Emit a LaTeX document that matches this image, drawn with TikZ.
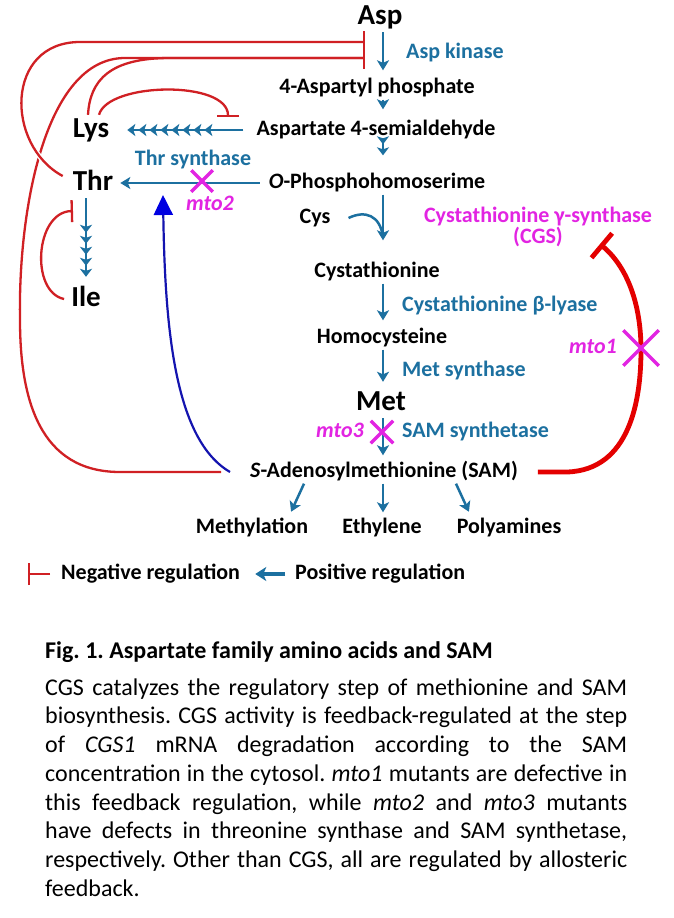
\documentclass[tikz,border=0pt]{standalone}
\usepackage{fontspec}
\setmainfont{Carlito}
\usetikzlibrary{arrows.meta, shapes.misc, positioning, calc}
\definecolor{pblue}{RGB}{28,112,160}
\definecolor{nred}{RGB}{208,32,36}
\definecolor{sred}{RGB}{228,0,0}
\definecolor{mgnt}{RGB}{226,36,226}
\definecolor{nvy}{RGB}{20,20,175}
\definecolor{tri}{RGB}{0,0,225}
\tikzset{hd/.tip={Stealth[length=8pt,width=12pt,inset=2pt,sep=3pt]}}
\begin{document}
\begin{tikzpicture}[x=1pt, y=-1pt,
  big/.style={font=\bfseries\fontsize{29}{34}\selectfont, text height=20pt, text depth=6pt, inner sep=2pt},
  cpd/.style={font=\bfseries\fontsize{22}{26}\selectfont, text height=15pt, text depth=4pt, inner sep=2pt},
  enz/.style={cpd, text=pblue},
  mut/.style={cpd, text=mgnt, font=\bfseries\itshape\fontsize{22}{26}\selectfont},
  posreg/.style={draw=pblue, line width=2.5pt, -{Stealth[length=10pt,width=12pt,inset=2.5pt]}},
  negreg/.style={draw=nred, line width=2.3pt, -{Bar[width=22pt]}},
  xmark/.style={cross out, draw=mgnt, line width=3.5pt, minimum size=#1, inner sep=0pt},
  hop/.style={preaction={draw=white, line width=5pt, -}}]
\fill[white] (0,0) rectangle (674,918);
\useasboundingbox (0,0) rectangle (674,918);
\coordinate (col) at (383,0);
\node[big] (asp) at (380,17) {Asp};
\node[enz, anchor=west] (aspk) at (404,53) {Asp kinase};
\node[cpd] (aph) at (377,88) {4-Aspartyl phosphate};
\node[cpd] (asa) at (376,130) {Aspartate 4-semialdehyde};
\node[cpd] (oph) at (377,183) {\textit{O}-Phosphohomoserime};
\node[big] (lys) at (91,130) {Lys};
\node[big] (thr) at (93,183) {Thr};
\node[big] (ile) at (86,299) {Ile};
\node[enz] (thrsyn) at (193,160) {Thr synthase};
\node[mut] (mtotwo) at (210,205) {mto2};
\node[cpd] (cys) at (315,218) {Cys};
\node[inner sep=1pt, align=center, text=mgnt, font=\bfseries\fontsize{22}{18}\selectfont] (cgs) at (538,227) {Cystathionine γ-synthase\\(CGS)};
\node[cpd] (cth) at (377,272) {Cystathionine};
\node[enz, anchor=west] (cbl) at (400,306) {Cystathionine β-lyase};
\node[cpd] (hcy) at (382,338) {Homocysteine};
\node[enz, anchor=west] (metsyn) at (400,371) {Met synthase};
\node[big] (met) at (381,403) {Met};
\node[mut, anchor=east] (mtothree) at (366,432) {mto3};
\node[enz, anchor=west] (samsyn) at (400,432) {SAM synthetase};
\node[cpd] (sam) at (384,472) {\textit{S}-Adenosylmethionine (SAM)};
\node[cpd] (methyl) at (252,528) {Methylation};
\node[cpd] (ethyl) at (382,528) {Ethylene};
\node[cpd] (polya) at (509,528) {Polyamines};
\node[mut, anchor=east] (mtoone) at (619,348) {mto1};
\node[cpd, anchor=west] (neglbl) at (59,574) {Negative regulation};
\node[cpd, anchor=west] (poslbl) at (293,574) {Positive regulation};
\coordinate (aktop) at (365,42);
\coordinate (akbot) at (365,58);
\coordinate (lysstep) at (228,117);
\coordinate (ilestep) at (73,211);
\coordinate (thrstep) at (163,195);
\coordinate (cgsstep) at (600,244);
\coordinate (cysin) at (383,237);
\coordinate (negbar) at (28,574);
\draw[posreg, shorten >=6pt] (asp.south -| col) -- (aph.north -| col);
\draw[posreg, shorten >=9pt] (aph.south -| col) -- (asa.north -| col);
\draw[posreg, -{hd[]hd[]}, shorten >=13pt] (asa.south -| col) -- (oph.north -| col);
\draw[posreg, shorten >=20pt] (oph.south -| col) -- (cth.north -| col);
\draw[pblue, line width=2.5pt] ([xshift=16pt]cys.east) .. controls (365,210) and (380,215) .. (cysin);
\draw[posreg, shorten >=6pt] (cth.south -| col) -- (hcy.north -| col);
\draw[posreg, shorten >=6pt] (hcy.south -| col) -- (met.north -| col);
\draw[posreg, shorten >=5pt] (met.south -| col) -- (sam.north -| col);
\draw[posreg, shorten >=5pt] ([xshift=-80pt]sam.south) -- ([xshift=37pt]methyl.north);
\draw[posreg, shorten >=4pt] (sam.south -| col) -- (ethyl.north -| col);
\draw[posreg, shorten >=5pt] ([xshift=72pt]sam.south) -- ([xshift=-38pt]polya.north);
\draw[posreg, -{hd[]hd[]hd[]hd[]hd[]hd[]hd[]hd[]}, shorten >=13pt] ([xshift=-11pt]asa.west) -- (lys.east |- asa.west);
\draw[posreg, shorten >=5pt] ([xshift=-7pt]oph.west) -- (thr.east |- oph.west);
\draw[posreg, -{hd[]hd[]hd[]hd[]hd[]}, shorten >=4pt] (thr.south -| ile.north) -- (ile.north);
\draw[negreg] ([xshift=-27pt]sam.west) -- (120,472) .. controls (40,472) and (20,400) .. (20,320) .. controls (18,210) and (45,58) .. (125,58) -- (akbot);
\draw[negreg, hop] ($(thr.west)+(-8,-7)$) .. controls (5,145) and (5,42) .. (80,42) -- (aktop);
\draw[negreg] ([xshift=-3pt]lys.north) .. controls (90,80) and (110,58) .. (170,58) -- (akbot);
\draw[negreg] ([xshift=8pt]lys.north) .. controls (108,82) and (228,80) .. (lysstep);
\draw[negreg] ([xshift=-5pt]ile.west) .. controls (30,292) and (35,212) .. (ilestep);
\draw[nvy, line width=2.2pt, -{Triangle[length=20pt,width=19pt,color=tri]}] ([xshift=-18pt]sam.west) .. controls (175,440) and (165,330) .. (thrstep);
\draw[sred, line width=4.8pt, -{Bar[width=32pt]}] ([xshift=18pt]sam.east) -- (567,472) .. controls (630,470) and (641,400) .. (641,350) .. controls (641,300) and (625,265) .. (cgsstep);
\draw[negreg] ([xshift=-9pt]neglbl.west) -- (negbar);
\draw[posreg, line width=3.5pt, -{Stealth[length=11pt,width=14pt,inset=3pt]}] ([xshift=-8pt]poslbl.west) -- ([xshift=13pt]neglbl.east);
\node[xmark=18pt] (xtwo) at (202,181) {};
\node[xmark=19pt] (xthree) at (382,432) {};
\node[xmark=32pt] (xone) at (641,348) {};
\node[anchor=base west, inner sep=0pt, font=\bfseries\fontsize{24}{29}\selectfont] (title) at (45,658) {\frenchspacing Fig. 1. Aspartate family amino acids and SAM};
\node[anchor=north west, inner sep=0pt, text width=582pt, align=justify, font=\fontsize{24}{28.7}\selectfont] (body) at (45,675) {\frenchspacing\hyphenpenalty=10000\exhyphenpenalty=10000\noindent\rule{0pt}{20pt}CGS catalyzes the regulatory step of methionine and SAM\linebreak
biosynthesis. CGS activity is feedback-regulated at the step\linebreak
of \textit{CGS1} mRNA degradation according to the SAM\linebreak
concentration in the cytosol. \textit{mto1} mutants are defective in\linebreak
this feedback regulation, while \textit{mto2} and \textit{mto3} mutants\linebreak
have defects in threonine synthase and SAM synthetase,\linebreak
respectively. Other than CGS, all are regulated by allosteric\linebreak
feedback.};
\end{tikzpicture}
\end{document}
